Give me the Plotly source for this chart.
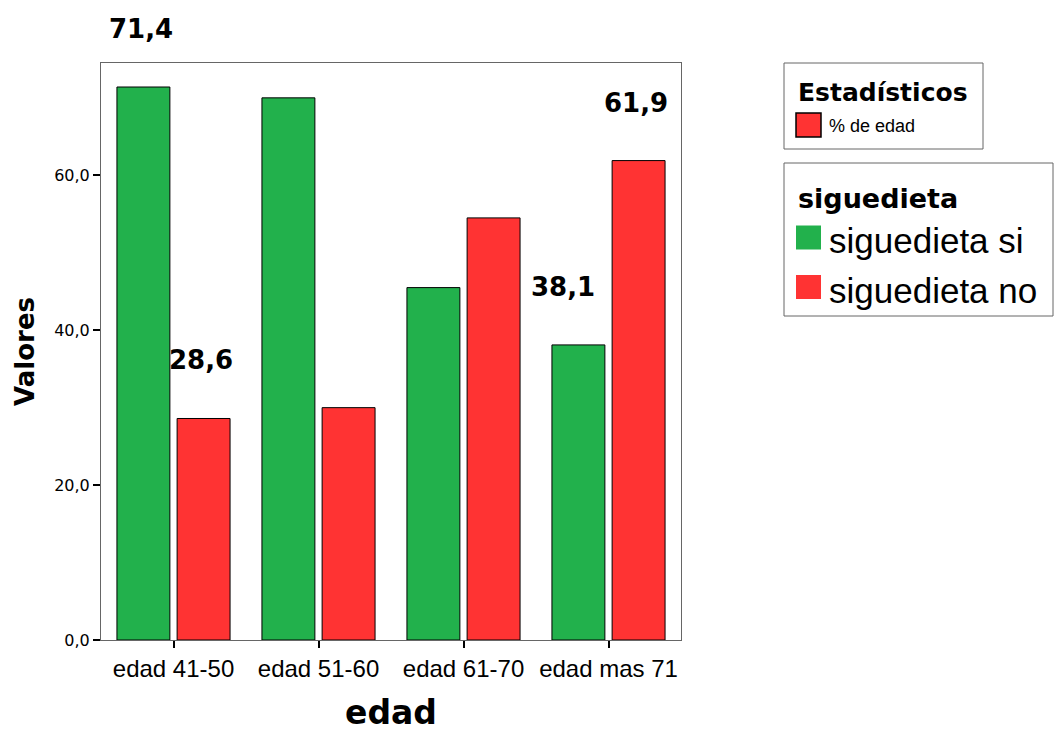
import plotly.graph_objects as go

categories = ["edad 41-50", "edad 51-60", "edad 61-70", "edad mas 71"]
si_values = [71.4, 70.0, 45.5, 38.1]
no_values = [28.6, 30.0, 54.5, 61.9]
y_ticks = [0, 20, 40, 60]

# which bars carry a value label: (series, category index, horizontal nudge in px)
labelled = [("si", 0, -4), ("no", 0, -2), ("si", 3, -17), ("no", 3, -2)]

GREEN = "#22b14c"
RED = "#ff3333"
FONT = "Liberation Sans, Arial, sans-serif"
BOLD = "DejaVu Sans, Verdana, sans-serif"

# figure size (page body adds an 8px margin all round) and plot area in figure pixels
FW, FH = 1046, 724
L, T, W, H = 93, 55, 580, 577


def px(x):
    return (x - L) / W


def py(y):
    return (T + H - y) / H


fig = go.Figure()

fig.add_trace(go.Bar(
    x=categories, y=si_values, name="siguedieta si",
    marker=dict(color=GREEN, line=dict(color="black", width=1)),
    hoverinfo="x+y",
))
fig.add_trace(go.Bar(
    x=categories, y=no_values, name="siguedieta no",
    marker=dict(color=RED, line=dict(color="black", width=1)),
    hoverinfo="x+y",
))

series = {"si": (si_values, -0.2), "no": (no_values, 0.2)}
for key, idx, nudge in labelled:
    vals, off = series[key]
    fig.add_annotation(
        x=idx + off, y=vals[idx], xref="x", yref="y",
        text=f"<b>{vals[idx]:.1f}</b>".replace(".", ","),
        showarrow=False, yshift=58, xshift=nudge,
        font=dict(family=BOLD, size=26, color="black"),
    )


# hand-drawn legend boxes (SPSS style)
def legend_box(x0, y0, x1, y1, title, title_size, items, item_size, sw_line):
    fig.add_shape(type="rect", xref="paper", yref="paper",
                  x0=px(x0), x1=px(x1), y0=py(y0), y1=py(y1),
                  line=dict(color="#666666", width=1), fillcolor="white")
    fig.add_annotation(xref="paper", yref="paper", x=px(x0 + 12), y=py(y0 + title[1]),
                       text=f"<b>{title[0]}</b>", showarrow=False,
                       xanchor="left", yanchor="middle",
                       font=dict(family=BOLD, size=title_size, color="black"))
    for name, col, cy, ty in items:
        fig.add_shape(type="rect", xref="paper", yref="paper",
                      x0=px(x0 + 12), x1=px(x0 + 37), y0=py(y0 + cy - 12), y1=py(y0 + cy + 12),
                      line=dict(color="black", width=sw_line), fillcolor=col)
        fig.add_annotation(xref="paper", yref="paper", x=px(x0 + 43), y=py(y0 + ty),
                           text=name, showarrow=False, xanchor="left", yanchor="middle",
                           font=dict(family=FONT, size=item_size, color="black"))


legend_box(776, 55, 975, 141, ("Estadísticos", 29), 25,
           [("% de edad", RED, 62, 63)], 18, 1.5)
legend_box(776, 155, 1045, 308, ("siguedieta", 35), 27,
           [("siguedieta si", GREEN, 74.5, 78), ("siguedieta no", RED, 124, 127)], 35, 0)

fig.update_layout(
    width=FW, height=FH,
    margin=dict(l=L, r=FW - L - W, t=T, b=FH - T - H, autoexpand=False),
    paper_bgcolor="white", plot_bgcolor="white",
    separators=",.",
    barmode="group", bargap=0.17, bargroupgap=0.12,
    font=dict(family=FONT, color="black"),
    showlegend=False,
    xaxis=dict(
        automargin=False,
        showline=True, mirror=True, linecolor="#666666", linewidth=1,
        ticks="outside", ticklen=7, tickcolor="black", tickwidth=2,
        tickfont=dict(family=FONT, size=24),
        title=dict(text="<b>edad</b>", font=dict(family=BOLD, size=33), standoff=24),
    ),
    yaxis=dict(
        automargin=False,
        range=[0, 74.5], tickvals=y_ticks, tickformat=".1f",
        showline=True, mirror=True, linecolor="#666666", linewidth=1,
        ticks="outside", ticklen=7, tickcolor="black", tickwidth=2,
        showgrid=False, zeroline=False,
        tickfont=dict(family="DejaVu Sans, sans-serif", size=16),
        title=dict(text="<b>Valores</b>", font=dict(family=BOLD, size=26), standoff=12),
    ),
)

fig.write_html("out.html")
